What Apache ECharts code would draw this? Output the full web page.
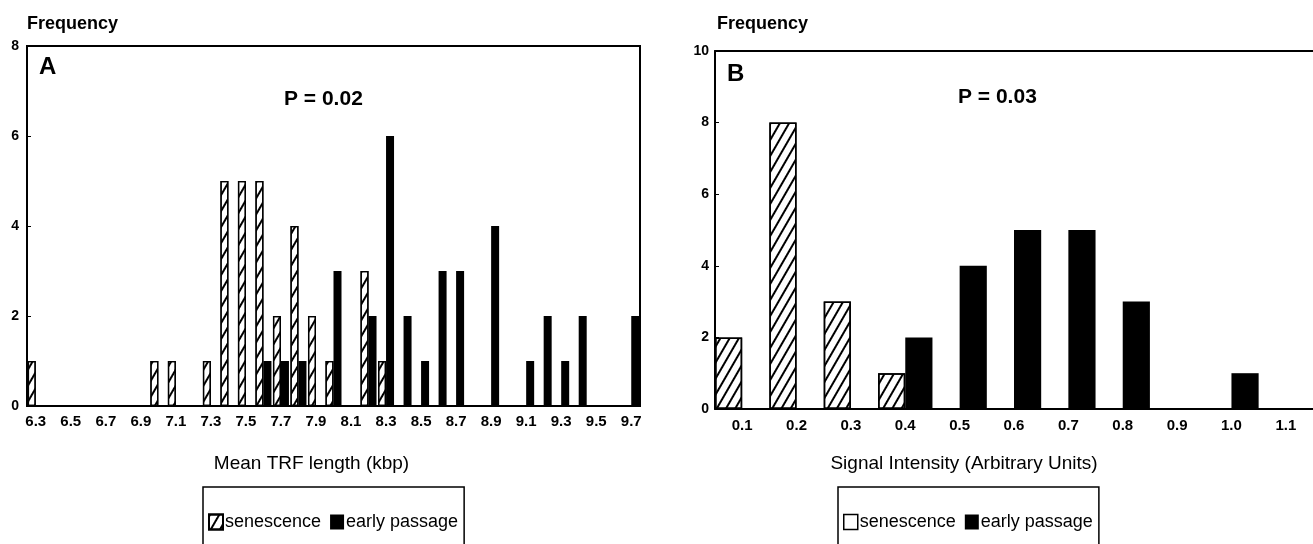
<!DOCTYPE html>
<html><head><meta charset="utf-8">
<script src="https://cdn.jsdelivr.net/npm/echarts@6/dist/echarts.min.js"></script>
<style>html,body{margin:0;padding:0;background:#fff}#c{width:1313px;height:544px}</style>
</head><body><div id="c"></div>
<script>
const catsA = ['6.3','6.4','6.5','6.6','6.7','6.8','6.9','7.0','7.1','7.2','7.3','7.4','7.5','7.6','7.7','7.8','7.9','8.0','8.1','8.2','8.3','8.4','8.5','8.6','8.7','8.8','8.9','9.0','9.1','9.2','9.3','9.4','9.5','9.6','9.7'];
const senescenceA = [1,0,0,0,0,0,0,1,1,0,1,5,5,5,2,4,2,1,0,3,1,0,0,0,0,0,0,0,0,0,0,0,0,0,0];
const earlyA =      [0,0,0,0,0,0,0,0,0,0,0,0,0,1,1,1,0,3,0,2,6,2,1,3,3,0,4,0,1,2,1,2,0,0,2];
const catsB = ['0.1','0.2','0.3','0.4','0.5','0.6','0.7','0.8','0.9','1.0','1.1'];
const senescenceB = [2,8,3,1,0,0,0,0,0,0,0];
const earlyB =      [0,0,0,2,4,5,5,3,0,1,0];

const FONT = "'Liberation Sans', Arial, sans-serif";
const hatch = { symbol: 'rect', symbolSize: 1, color: '#000', dashArrayX: [1, 0], dashArrayY: [1.4, 6], rotation: -Math.PI / 3 };

const chart = echarts.init(document.getElementById('c'), null, { renderer: 'canvas' });

function yAxis(idx, max) {
  return {
    type: 'value', gridIndex: idx, min: 0, max: max, interval: 2,
    splitLine: { show: false },
    axisLine: { show: true, lineStyle: { color: '#000', width: 2 } },
    axisTick: { show: true, inside: true, length: 4, lineStyle: { color: '#000' } },
    axisLabel: { color: '#000', fontFamily: FONT, fontWeight: 'bold', fontSize: 14, margin: idx === 0 ? 8 : 6 }
  };
}
const legendCommon = {
  orient: 'horizontal', icon: 'rect',
  borderColor: '#000', borderWidth: 1.5, padding: [26, 6, 40, 5],
  itemWidth: 14, itemHeight: 15, itemGap: 9,
  textStyle: { color: '#000', fontFamily: FONT, fontSize: 18, padding: [0, 0, 0, -3] },
  selectedMode: false
};

const option = {
  backgroundColor: '#fff',
  animation: false,
  grid: [
    { left: 27, top: 46, width: 613, height: 360, show: true, borderColor: '#000', borderWidth: 2 },
    { left: 715, top: 51, width: 605, height: 358, show: false }
  ],
  xAxis: [
    {
      type: 'category', gridIndex: 0, data: catsA,
      axisLine: { lineStyle: { color: '#000', width: 2 } },
      axisTick: { show: false },
      axisLabel: { interval: 1, color: '#000', fontFamily: FONT, fontWeight: 'bold', fontSize: 15, margin: 8 },
      name: 'Mean TRF length (kbp)', nameLocation: 'middle', nameGap: 48,
      nameTextStyle: { color: '#000', fontFamily: FONT, fontSize: 19, padding: [0, 44, 0, 0] }
    },
    {
      type: 'category', gridIndex: 1, data: catsB,
      axisLine: { lineStyle: { color: '#000', width: 2 } },
      axisTick: { show: false },
      axisLabel: { interval: 0, color: '#000', fontFamily: FONT, fontWeight: 'bold', fontSize: 15, margin: 9 },
      name: 'Signal Intensity (Arbitrary Units)', nameLocation: 'middle', nameGap: 45,
      nameTextStyle: { color: '#000', fontFamily: FONT, fontSize: 19, padding: [0, 100, 0, 0] }
    },
    {
      type: 'category', gridIndex: 1, data: catsB, position: 'top',
      axisLine: { lineStyle: { color: '#000', width: 2 } },
      axisTick: { show: false }, axisLabel: { show: false }
    }
  ],
  yAxis: [yAxis(0, 8), yAxis(1, 10)],
  legend: [
    Object.assign({}, legendCommon, {
      left: 203, top: 487,
      data: ['senescence', 'early passage']
    }),
    Object.assign({}, legendCommon, {
      left: 838, top: 487,
      data: [
        { name: 'senescence', itemStyle: { color: '#fff', borderColor: '#000', borderWidth: 1.5, decal: 'none' } },
        'early passage'
      ]
    })
  ],
  graphic: [
    { type: 'text', left: 27, top: 15, style: { text: 'Frequency', fill: '#000', font: "bold 18px 'Liberation Sans', Arial, sans-serif" } },
    { type: 'text', left: 717, top: 15, style: { text: 'Frequency', fill: '#000', font: "bold 18px 'Liberation Sans', Arial, sans-serif" } },
    { type: 'text', left: 39, top: 55, style: { text: 'A', fill: '#000', font: "bold 24px 'Liberation Sans', Arial, sans-serif" } },
    { type: 'text', left: 727, top: 62, style: { text: 'B', fill: '#000', font: "bold 24px 'Liberation Sans', Arial, sans-serif" } },
    { type: 'text', left: 284, top: 89, style: { text: 'P = 0.02', fill: '#000', font: "bold 21px 'Liberation Sans', Arial, sans-serif" } },
    { type: 'text', left: 958, top: 87, style: { text: 'P = 0.03', fill: '#000', font: "bold 21px 'Liberation Sans', Arial, sans-serif" } }
  ],
  series: [
    {
      name: 'senescence', type: 'bar', xAxisIndex: 0, yAxisIndex: 0, data: senescenceA,
      barWidth: 8, barGap: '0%',
      itemStyle: { color: '#fff', borderColor: '#000', borderWidth: 1.3, decal: hatch }
    },
    {
      name: 'early passage', type: 'bar', xAxisIndex: 0, yAxisIndex: 0, data: earlyA,
      barWidth: 8, barGap: '0%',
      itemStyle: { color: '#000', borderColor: '#000', borderWidth: 0 }
    },
    {
      name: 'senescence', type: 'bar', xAxisIndex: 1, yAxisIndex: 1, data: senescenceB,
      barGap: '0%', barCategoryGap: '0%',
      itemStyle: { color: '#fff', borderColor: '#000', borderWidth: 1.5, decal: hatch }
    },
    {
      name: 'early passage', type: 'bar', xAxisIndex: 1, yAxisIndex: 1, data: earlyB,
      barGap: '0%', barCategoryGap: '0%',
      itemStyle: { color: '#000', borderColor: '#000', borderWidth: 0 }
    }
  ]
};
chart.setOption(option);
</script></body></html>
